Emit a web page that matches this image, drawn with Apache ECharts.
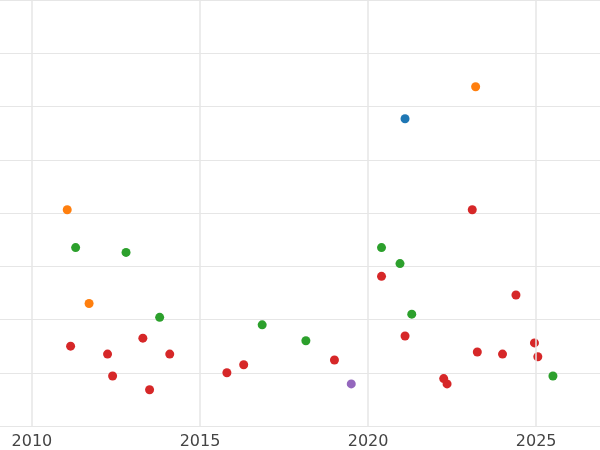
<!DOCTYPE html>
<html><head><meta charset="utf-8">
<script src="https://cdn.jsdelivr.net/npm/echarts@6/dist/echarts.min.js"></script>
<style>html,body{margin:0;padding:0;background:#fff}#c{width:600px;height:450px}</style>
</head><body><div id="c"></div>
<script>
const xTicks=[2010,2015,2020,2025];
const blueX=[2021.1], blueY=[5.77];
const orangeX=[2023.2,2011.05,2011.7], orangeY=[6.37,4.06,2.30];
const purpleX=[2019.5], purpleY=[0.79];
const greenX=[2011.3,2012.8,2013.8,2016.85,2018.15,2020.4,2020.95,2021.3,2025.5];
const greenY=[3.35,3.26,2.04,1.90,1.60,3.35,3.05,2.10,0.94];
const redX=[2011.15,2012.25,2012.4,2013.3,2013.5,2014.1,2015.8,2016.3,2019.0,2020.4,2021.1,2022.25,2022.35,2023.1,2023.25,2024.0,2024.4,2024.95,2025.05];
const redY=[1.50,1.35,0.94,1.65,0.68,1.35,1.0,1.15,1.24,2.81,1.69,0.89,0.79,4.06,1.39,1.35,2.46,1.56,1.30];
const zip=(a,b)=>a.map((v,i)=>[v,b[i]]);
const mk=(x,y,c)=>({type:'scatter',data:zip(x,y),symbolSize:9,itemStyle:{color:c,opacity:1},z:3});
const chart=echarts.init(document.getElementById('c'));
const series=[mk(redX,redY,'#d62728'),mk(greenX,greenY,'#2ca02c'),mk(orangeX,orangeY,'#ff7f0e'),mk(blueX,blueY,'#1f77b4'),mk(purpleX,purpleY,'#9467bd')];
series.push({type:'scatter',data:[],markLine:{silent:true,symbol:'none',label:{show:false},
  lineStyle:{color:'#e6e6e6',width:1.5,type:'solid'},data:xTicks.map(v=>({xAxis:v}))},z:1});
chart.setOption({
  animation:false,
  grid:{left:0,right:0,top:-2,bottom:23,containLabel:false},
  xAxis:{type:'value',min:2009.05,max:2026.9,
    axisLine:{show:false},axisTick:{show:false},
    axisLabel:{customValues:xTicks,formatter:v=>String(v),color:'#444',fontSize:16,fontFamily:'DejaVu Sans',margin:8},
    splitLine:{show:false}},
  yAxis:{type:'value',min:0,max:8,interval:1,axisLabel:{show:false},
    axisLine:{show:false},axisTick:{show:false},
    splitLine:{show:true,lineStyle:{color:'#e6e6e6',width:1}}},
  series:series
});
</script></body></html>
